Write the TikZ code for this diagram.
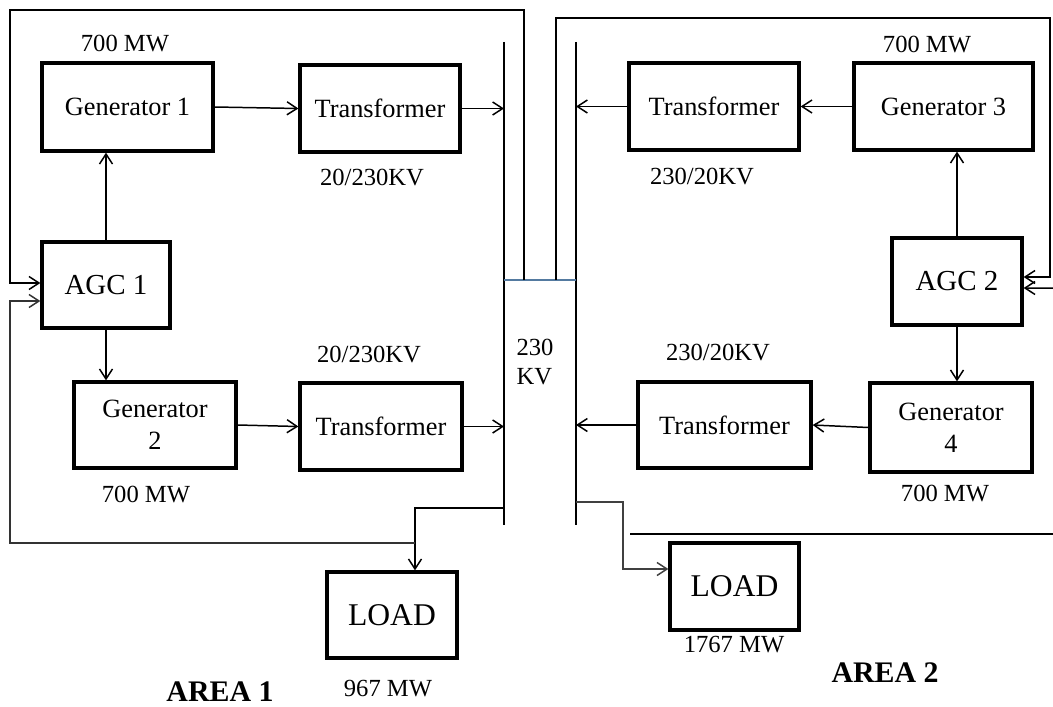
\documentclass[tikz,border=0pt]{standalone}
\usepackage{fontspec}
\setmainfont{Liberation Serif}
\usetikzlibrary{arrows.meta}
\definecolor{tieblue}{RGB}{84,122,160}

\begin{document}
\begin{tikzpicture}[
    x=0.02cm, y=-0.02cm,
    >={Straight Barb[length=2mm,width=2.6mm]},
    block/.style={draw, line width=1.9pt, inner sep=0pt, align=center, font=\fontsize{15}{18}\selectfont},
    agcbox/.style={block, font=\fontsize{16.5}{19}\selectfont},
    loadbox/.style={block, font=\fontsize{18}{20}\selectfont},
    lbl/.style={inner sep=0pt, font=\fontsize{14}{16}\selectfont},
    area/.style={inner sep=0pt, font=\bfseries\fontsize{17}{19}\selectfont},
    link/.style={->, line width=0.85pt},
    wire/.style={line width=0.85pt},
    tie/.style={line width=0.7pt, draw=tieblue}
]
\useasboundingbox (0,0) rectangle (1053,706);

% Area 1
\node[block, minimum width=3.42cm, minimum height=1.76cm] (gen1) at (127.5,107) {Generator 1};
\node[block, minimum width=3.2cm, minimum height=1.74cm] (tr1) at (380,108.5) {Transformer};
\node[agcbox, minimum width=2.56cm, minimum height=1.72cm] (agc1) at (106,285) {AGC 1};
\node[block, minimum width=3.24cm, minimum height=1.72cm] (gen2) at (155,425) {Generator\\2};
\node[block, minimum width=3.24cm, minimum height=1.74cm] (tr2) at (381,426.5) {Transformer};
\node[loadbox, minimum width=2.6cm, minimum height=1.72cm] (load1) at (392,615) {LOAD};

\node[lbl] (p1) at (125,44) {700 MW};
\node[lbl] (v1) at (372,178) {20/230KV};
\node[lbl] (v2) at (369,355) {20/230KV};
\node[lbl] (p2) at (146,494) {700 MW};
\node[lbl] (pl1) at (388,689) {967 MW};
\node[area] (area1) at (220,692) {AREA 1};

% Area 2
\node[block, minimum width=3.4cm, minimum height=1.74cm] (tr3) at (714,106.5) {Transformer};
\node[block, minimum width=3.58cm, minimum height=1.74cm] (gen3) at (943.5,106.5) {Generator 3};
\node[agcbox, minimum width=2.6cm, minimum height=1.74cm] (agc2) at (957,281.5) {AGC 2};
\node[block, minimum width=3.46cm, minimum height=1.72cm] (tr4) at (724.5,425) {Transformer};
\node[block, minimum width=3.24cm, minimum height=1.78cm] (gen4) at (951,427.5) {Generator\\4};
\node[loadbox, minimum width=2.58cm, minimum height=1.74cm] (load2) at (734.5,586.5) {LOAD};

\node[lbl] (p3) at (927,45) {700 MW};
\node[lbl] (v3) at (702,177) {230/20KV};
\node[lbl] (v4) at (718,353) {230/20KV};
\node[lbl] (p4) at (945,493) {700 MW};
\node[lbl] (pl2) at (734,645) {1767 MW};
\node[area] (area2) at (885,673) {AREA 2};

% 230 KV bus bars and tie line
\coordinate (b1top) at (504,42);
\coordinate (b1bot) at (504,525);
\coordinate (b2top) at (576,42);
\coordinate (b2bot) at (576,525);
\node[lbl, align=left] (kv) at (535,362) {230\\KV};
\draw[wire] (b1top) -- (b1bot);
\draw[wire] (b2top) -- (b2bot);
\coordinate (t1) at (504,280);
\coordinate (t2) at (576,280);
\draw[tie] (t1) -- (t2);

% power flow
\draw[link] (gen1.east) -- (tr1.west);
\draw[link] (tr1.east) -- (tr1.east -| b1top);
\draw[link] (gen2.east) -- (tr2.west);
\draw[link] (tr2.east) -- (tr2.east -| b1top);
\draw[link] (gen3.west) -- (tr3.east);
\draw[link] (tr3.west) -- (tr3.west -| b2top);
\draw[link] (gen4.west) -- (tr4.east);
\draw[link] (tr4.west) -- (tr4.west -| b2top);

% control signals
\draw[link] (agc1.north) -- (agc1.north |- gen1.south);
\draw[link] (agc1.south) -- (agc1.south |- gen2.north);
\draw[link] (agc2.north) -- (agc2.north |- gen3.south);
\draw[link] (agc2.south) -- (agc2.south |- gen4.north);

% loads
\coordinate (tap1) at (504,508);
\coordinate (ld1) at (415,508);
\draw[link] (tap1) -- (ld1) -- (ld1 |- load1.north);
\coordinate (tap2) at (576,502);
\coordinate (ld2) at (623,502);
\draw[link, draw=black!75] (tap2) -- (ld2) |- ([yshift=0.35cm]load2.west);

% feedback to AGC 1
\coordinate (fa0) at (10,10);
\coordinate (fa1) at (524,280);
\coordinate (fb0) at (10,543);
\draw[link] (fa1) |- (fa0) |- ([yshift=0.04cm]agc1.west);
\draw[link, draw=black!80] (ld1 |- fb0) -- (fb0) |- ([yshift=-0.32cm]agc1.west);

% feedback to AGC 2
\coordinate (fc0) at (556,280);
\coordinate (fc1) at (1050,18);
\coordinate (fd0) at (1053,288);
\coordinate (fe0) at (630,534);
\coordinate (fe1) at (1053,534);
\draw[link] (fc0) |- (fc1) |- ([yshift=0.09cm]agc2.east);
\draw[link] (fd0) -- ([yshift=-0.13cm]agc2.east);
\draw[wire] (fe0) -- (fe1);
\end{tikzpicture}
\end{document}
